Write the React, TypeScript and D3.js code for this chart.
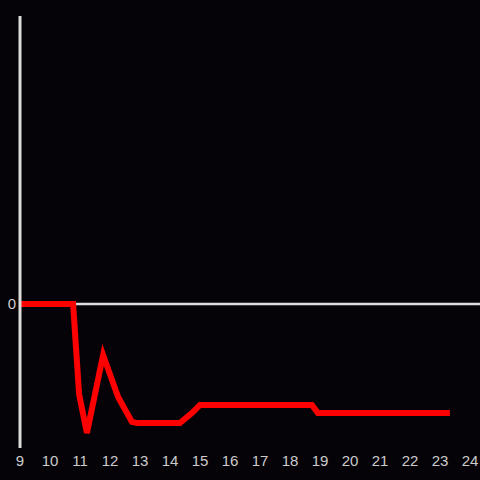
import React from "react";
import * as d3 from "d3";

const xVals = [9, 10.77, 10.97, 11.23, 11.77, 12.27, 12.73, 12.9, 14.33, 14.73, 15.0, 18.73, 18.93, 23.33];
const yVals = [0, 0, -0.625, -0.896, -0.354, -0.646, -0.819, -0.826, -0.826, -0.757, -0.701, -0.701, -0.757, -0.757];
const xTicks = [9, 10, 11, 12, 13, 14, 15, 16, 17, 18, 19, 20, 21, 22, 23, 24];
const yTicks = [0];

export default function App() {
  const W = 480, H = 480;
  const x = d3.scaleLinear().domain([9, 24]).range([20, 470]);
  const y = d3.scaleLinear().domain([-1, 2]).range([448, 16]);
  const pts: [number, number][] = xVals.map((v, i) => [v, yVals[i]]);
  const line = d3.line<[number, number]>().x(d => x(d[0])).y(d => y(d[1]));
  const font = "'Liberation Sans', Arial, sans-serif";
  return (
    <div style={{ position: "fixed", left: 0, top: 0, width: W, height: H }}>
      <svg width={W} height={H} style={{ display: "block", background: "#050308" }}>
        <rect x={0} y={0} width={W} height={H} fill="#050308" />
        <line x1={x(9)} x2={480} y1={y(0)} y2={y(0)} stroke="#dddddd" strokeWidth={2.5} />
        <path d={line(pts) || ""} fill="none" stroke="#ff0000" strokeWidth={6}
          strokeLinejoin="miter" strokeLinecap="butt" />
        <line x1={x(9)} x2={x(9)} y1={16} y2={448} stroke="#dddddd" strokeWidth={3} />
        {yTicks.map(t => (
          <text key={t} x={16} y={y(t)} dy="0.35em" textAnchor="end" fill="#cccccc"
            fontFamily={font} fontSize={15}>{t}</text>
        ))}
        {xTicks.map(t => (
          <text key={t} x={x(t)} y={461} dy="0.35em" textAnchor="middle" fill="#cccccc"
            fontFamily={font} fontSize={15}>{t}</text>
        ))}
      </svg>
    </div>
  );
}
